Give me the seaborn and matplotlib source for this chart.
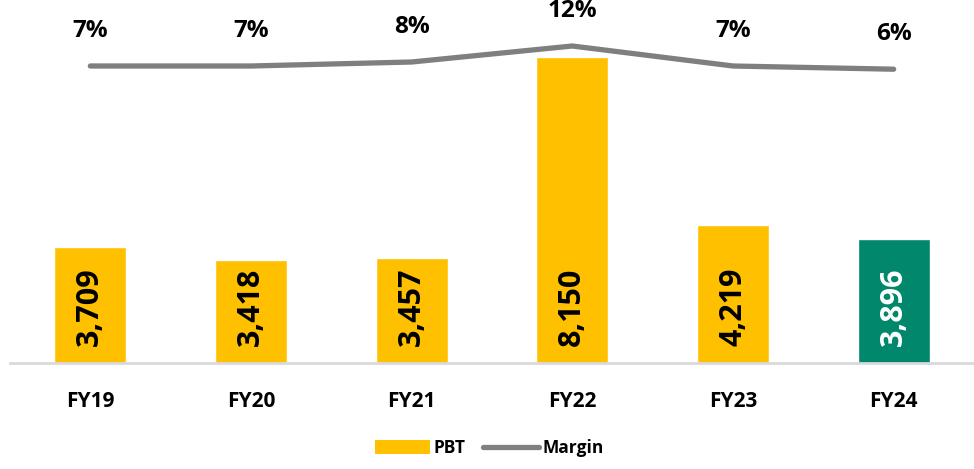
import pandas as pd
import matplotlib.pyplot as plt
import seaborn as sns
from matplotlib.patches import Patch
from matplotlib.lines import Line2D

# Chart values
years = ['FY19', 'FY20', 'FY21', 'FY22', 'FY23', 'FY24']
pbt = [3709, 3418, 3457, 8150, 4219, 3896]
margin = [7.0, 7.0, 8.0, 12.0, 7.0, 6.2]
margin_labels = ['7%', '7%', '8%', '12%', '7%', '6%']
bar_colors = ['#FFC000', '#FFC000', '#FFC000', '#FFC000', '#FFC000', '#00876C']
text_colors = ['black', 'black', 'black', 'black', 'black', 'white']

df = pd.DataFrame({'year': years, 'pbt': pbt, 'margin': margin})

sns.set_style('white')
plt.rcParams['font.family'] = ['Open Sans', 'DejaVu Sans']
plt.rcParams['font.weight'] = 'bold'
plt.rcParams['text.color'] = 'black'
plt.rcParams['xtick.color'] = 'black'

fig = plt.figure(figsize=(9.74, 4.69), dpi=100)
ax = fig.add_axes([10 / 974, 1 - 363 / 469, 964 / 974, 342 / 469])

sns.barplot(data=df, x='year', y='pbt', hue='year', palette=bar_colors,
            width=0.45, legend=False, ax=ax, saturation=1)
ax.set_ylim(1000, 9000)
ax.set_xlim(-0.5, 5.5)

# value labels at the bar base, rotated
for i, v in enumerate(pbt):
    ax.annotate(f'{v:,}', xy=(i, 1000), xytext=(0, 12), textcoords='offset points',
                rotation=90, ha='center', va='bottom', fontsize=22,
                fontweight='bold', color=text_colors[i])

# margin line on a secondary axis
ax2 = ax.twinx()
sns.lineplot(data=df, x='year', y='margin', color='#7F7F7F', linewidth=3.8,
             sort=False, ax=ax2, solid_capstyle='round', solid_joinstyle='round')
ax2.set_ylim(-67.25, 18.25)
for i, (v, lab) in enumerate(zip(margin, margin_labels)):
    ax2.annotate(lab, xy=(i, v), xytext=(0, 25), textcoords='offset points',
                 ha='center', va='center', fontsize=17.5, fontweight='bold')

for a in (ax, ax2):
    for s in ['top', 'right', 'left']:
        a.spines[s].set_visible(False)
    a.set_yticks([])
    a.set_ylabel('')
    a.set_xlabel('')
ax2.spines['bottom'].set_visible(False)
ax.spines['bottom'].set_color('#D9D9D9')
ax.spines['bottom'].set_linewidth(2)
ax.tick_params(axis='x', length=0, pad=20, labelsize=15)
for t in ax.get_xticklabels():
    t.set_fontweight('bold')

handles = [Patch(facecolor='#FFC000', edgecolor='none'),
           Line2D([0], [0], color='#7F7F7F', linewidth=3.8, solid_capstyle='round')]
fig.legend(handles, ['PBT', 'Margin'], loc='center', bbox_to_anchor=(489 / 974, 1 - 448 / 469),
           ncol=2, frameon=False, handlelength=3.2, handleheight=0.8,
           handletextpad=0.2, columnspacing=1.0, prop={'weight': 'bold', 'size': 12.5})

fig.savefig('out.png', dpi=100)
